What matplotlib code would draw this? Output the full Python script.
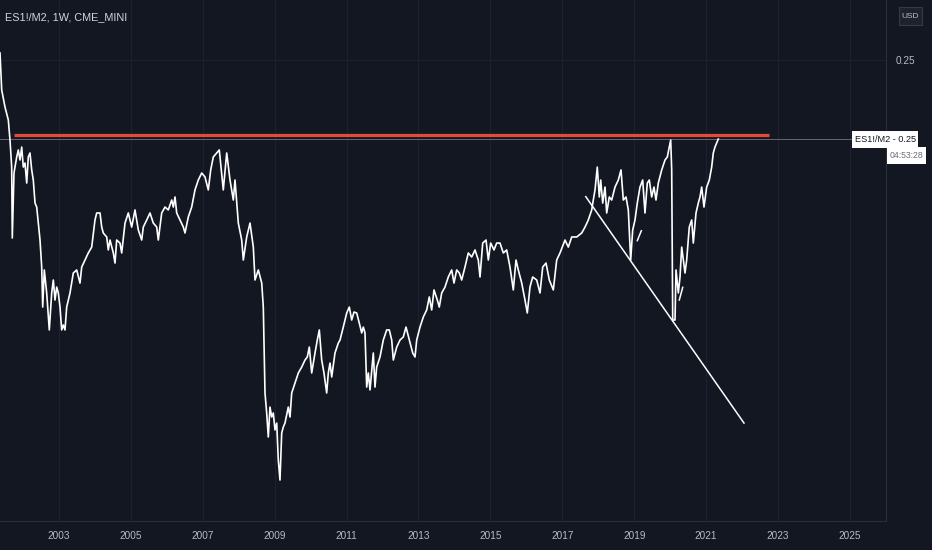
import matplotlib
matplotlib.use("Agg")
import matplotlib.pyplot as plt
from matplotlib.patches import Rectangle

# weekly ES1!/M2 ratio (decimal year, value)
years = [
    2001.359, 2001.406, 2001.498, 2001.590, 2001.637, 2001.684, 2001.701, 2001.748, 2001.824, 2001.868,
    2001.915, 2001.963, 2002.007, 2002.054, 2002.102, 2002.146, 2002.193, 2002.241, 2002.285, 2002.333,
    2002.380, 2002.424, 2002.472, 2002.519, 2002.547, 2002.591, 2002.658, 2002.730, 2002.797, 2002.842,
    2002.889, 2002.936, 2002.981, 2003.028, 2003.075, 2003.120, 2003.167, 2003.214, 2003.306, 2003.398,
    2003.492, 2003.584, 2003.632, 2003.723, 2003.815, 2003.910, 2004.001, 2004.049, 2004.141, 2004.188,
    2004.232, 2004.327, 2004.371, 2004.419, 2004.511, 2004.558, 2004.605, 2004.697, 2004.744, 2004.836,
    2004.928, 2005.022, 2005.114, 2005.206, 2005.301, 2005.345, 2005.440, 2005.531, 2005.623, 2005.718,
    2005.762, 2005.857, 2005.949, 2006.040, 2006.135, 2006.180, 2006.227, 2006.274, 2006.366, 2006.458,
    2006.505, 2006.597, 2006.691, 2006.783, 2006.875, 2006.970, 2007.061, 2007.153, 2007.220, 2007.292,
    2007.387, 2007.459, 2007.570, 2007.665, 2007.757, 2007.849, 2007.896, 2007.988, 2008.082, 2008.127,
    2008.221, 2008.313, 2008.405, 2008.452, 2008.544, 2008.639, 2008.683, 2008.730, 2008.777, 2008.822,
    2008.869, 2008.917, 2008.961, 2009.008, 2009.056, 2009.100, 2009.147, 2009.195, 2009.239, 2009.286,
    2009.378, 2009.426, 2009.473, 2009.565, 2009.657, 2009.751, 2009.843, 2009.907, 2009.963, 2010.029,
    2010.121, 2010.185, 2010.241, 2010.307, 2010.371, 2010.446, 2010.491, 2010.538, 2010.586, 2010.677,
    2010.769, 2010.817, 2010.908, 2011.003, 2011.075, 2011.142, 2011.206, 2011.281, 2011.353, 2011.420,
    2011.465, 2011.512, 2011.559, 2011.604, 2011.651, 2011.743, 2011.790, 2011.837, 2011.929, 2012.021,
    2012.115, 2012.188, 2012.255, 2012.299, 2012.394, 2012.485, 2012.577, 2012.652, 2012.744, 2012.839,
    2012.903, 2012.950, 2013.042, 2013.134, 2013.228, 2013.300, 2013.367, 2013.431, 2013.523, 2013.578,
    2013.645, 2013.737, 2013.829, 2013.923, 2013.987, 2014.062, 2014.135, 2014.201, 2014.293, 2014.385,
    2014.480, 2014.572, 2014.663, 2014.711, 2014.786, 2014.878, 2014.942, 2015.008, 2015.100, 2015.175,
    2015.267, 2015.359, 2015.453, 2015.545, 2015.637, 2015.712, 2015.776, 2015.871, 2015.962, 2016.026,
    2016.101, 2016.176, 2016.288, 2016.380, 2016.455, 2016.547, 2016.639, 2016.750, 2016.844, 2016.936,
    2017.075, 2017.167, 2017.262, 2017.401, 2017.540, 2017.632, 2017.723, 2017.818, 2017.862, 2017.910,
    2017.973, 2018.029, 2018.068, 2018.124, 2018.188, 2018.235, 2018.307, 2018.374, 2018.466, 2018.558,
    2018.633, 2018.697, 2018.772, 2018.836, 2018.863, 2018.902, 2018.958, 2019.022, 2019.086, 2019.161,
    2019.236, 2019.300, 2019.364, 2019.420, 2019.486, 2019.550, 2019.606, 2019.670, 2019.765, 2019.857,
    2019.921, 2019.977, 2020.015, 2020.043, 2020.071, 2020.135, 2020.163, 2020.227, 2020.274, 2020.321,
    2020.366, 2020.413, 2020.460, 2020.532, 2020.599, 2020.644, 2020.719, 2020.783, 2020.830, 2020.877,
    2020.941, 2021.016, 2021.089, 2021.155, 2021.200, 2021.247, 2021.339,
]
ratio = [
    0.25044, 0.24813, 0.24706, 0.24625, 0.24500, 0.24331, 0.23888, 0.24294, 0.24394, 0.24438,
    0.24375, 0.24456, 0.24331, 0.24356, 0.24231, 0.24394, 0.24419, 0.24313, 0.24250, 0.24106,
    0.24081, 0.23981, 0.23875, 0.23706, 0.23456, 0.23688, 0.23544, 0.23313, 0.23544, 0.23625,
    0.23500, 0.23581, 0.23544, 0.23456, 0.23313, 0.23344, 0.23313, 0.23456, 0.23544, 0.23669,
    0.23688, 0.23606, 0.23706, 0.23750, 0.23794, 0.23831, 0.24000, 0.24044, 0.24044, 0.23956,
    0.23919, 0.23894, 0.23813, 0.23875, 0.23794, 0.23731, 0.23875, 0.23856, 0.23794, 0.23981,
    0.24044, 0.23956, 0.24063, 0.23938, 0.23875, 0.23956, 0.24000, 0.24044, 0.23981, 0.23956,
    0.23875, 0.24044, 0.24081, 0.24063, 0.24125, 0.24081, 0.24144, 0.24044, 0.24000, 0.23956,
    0.23919, 0.24019, 0.24081, 0.24188, 0.24250, 0.24294, 0.24269, 0.24188, 0.24313, 0.24394,
    0.24419, 0.24438, 0.24188, 0.24419, 0.24250, 0.24125, 0.24250, 0.23981, 0.23875, 0.23750,
    0.23894, 0.23981, 0.23831, 0.23625, 0.23688, 0.23606, 0.23456, 0.22919, 0.22794, 0.22644,
    0.22831, 0.22769, 0.22794, 0.22688, 0.22731, 0.22500, 0.22375, 0.22669, 0.22706, 0.22731,
    0.22831, 0.22769, 0.22919, 0.22981, 0.23044, 0.23081, 0.23125, 0.23144, 0.23206, 0.23044,
    0.23169, 0.23250, 0.23313, 0.23125, 0.23044, 0.22919, 0.23044, 0.23106, 0.23019, 0.23169,
    0.23231, 0.23250, 0.23331, 0.23419, 0.23456, 0.23375, 0.23425, 0.23419, 0.23356, 0.23294,
    0.23331, 0.23294, 0.22956, 0.23044, 0.22938, 0.23169, 0.22956, 0.23081, 0.23144, 0.23250,
    0.23313, 0.23313, 0.23250, 0.23125, 0.23206, 0.23250, 0.23269, 0.23331, 0.23250, 0.23169,
    0.23144, 0.23250, 0.23331, 0.23394, 0.23438, 0.23519, 0.23438, 0.23563, 0.23500, 0.23456,
    0.23544, 0.23581, 0.23644, 0.23688, 0.23606, 0.23688, 0.23669, 0.23625, 0.23706, 0.23794,
    0.23769, 0.23813, 0.23750, 0.23644, 0.23856, 0.23875, 0.23750, 0.23856, 0.23813, 0.23856,
    0.23856, 0.23794, 0.23813, 0.23706, 0.23563, 0.23750, 0.23688, 0.23606, 0.23500, 0.23419,
    0.23581, 0.23644, 0.23625, 0.23544, 0.23706, 0.23731, 0.23625, 0.23563, 0.23750, 0.23794,
    0.23875, 0.23831, 0.23894, 0.23894, 0.23919, 0.23956, 0.24000, 0.24063, 0.24125, 0.24188,
    0.24331, 0.24144, 0.24250, 0.24106, 0.24206, 0.24044, 0.24144, 0.24125, 0.24206, 0.24250,
    0.24313, 0.24125, 0.24144, 0.24063, 0.23938, 0.23750, 0.23938, 0.24000, 0.24106, 0.24206,
    0.24250, 0.24044, 0.24231, 0.24250, 0.24144, 0.24206, 0.24125, 0.24231, 0.24313, 0.24375,
    0.24394, 0.24456, 0.24500, 0.24313, 0.23375, 0.23375, 0.23688, 0.23544, 0.23644, 0.23831,
    0.23750, 0.23669, 0.23750, 0.23956, 0.24000, 0.23856, 0.24044, 0.24106, 0.24144, 0.24206,
    0.24081, 0.24206, 0.24250, 0.24331, 0.24419, 0.24456, 0.24506,
]

# drawings on the chart
resistance_x = [2001.748, 2022.750]
resistance_y = [0.24531, 0.24531]
trend_x = [2017.653, 2022.054]
trend_y = [0.24146, 0.22731]
# two short stray strokes near the 2019 and 2020 lows
stroke1_x = [2019.086, 2019.198]
stroke1_y = [0.23871, 0.23933]
stroke2_x = [2020.254, 2020.349]
stroke2_y = [0.23500, 0.23579]

last_price = ratio[-1]
countdown = "04:53:28"
year_ticks = [2003, 2005, 2007, 2009, 2011, 2013, 2015, 2017, 2019, 2021, 2023, 2025]
price_ticks = [0.25]

bg = "#131722"
grid_c = "#1c2030"
text_c = "#b8bbc4"
font = ["Liberation Sans", "DejaVu Sans"]

fig = plt.figure(figsize=(9.32, 5.5), dpi=100, facecolor=bg)
ax = fig.add_axes([0, 29 / 550, 886 / 932, 521 / 550])
ax.set_facecolor(bg)

ax.set_xlim(2001.359, 2026.004)
ax.set_ylim(0.22119, 0.25375)

ax.set_xticks(year_ticks)
ax.set_xticklabels([str(y) for y in year_ticks])
ax.set_yticks(price_ticks)
ax.set_yticklabels(["%.2f" % p for p in price_ticks])
ax.yaxis.tick_right()
ax.tick_params(axis="both", length=0, colors=text_c, labelsize=7.2)
ax.tick_params(axis="x", pad=7)
ax.tick_params(axis="y", pad=7)
for lbl in ax.get_xticklabels() + ax.get_yticklabels():
    lbl.set_family(font)
ax.grid(True, color=grid_c, linewidth=0.8)

for s in ["top", "left"]:
    ax.spines[s].set_visible(False)
ax.spines["right"].set_color("#2a2e39")
ax.spines["bottom"].set_color("#2a2e39")

# last price line
ax.axhline(last_price, color="#787b86", linewidth=0.7, alpha=0.8)

ax.plot(resistance_x, resistance_y, color="#e4493a", linewidth=2.3, solid_capstyle="butt")
ax.plot(years, ratio, color="white", linewidth=1.2)
ax.plot(trend_x, trend_y, color="white", linewidth=1.1)
ax.plot(stroke1_x, stroke1_y, color="white", linewidth=1.1)
ax.plot(stroke2_x, stroke2_y, color="white", linewidth=1.1)

fig.text(5 / 932, 1 - 17 / 550, "ES1!/M2, 1W, CME_MINI", color="#d1d4dc",
         fontsize=7.8, family=font, va="center", ha="left")

# USD box top right
fig.patches.append(Rectangle((899 / 932, 1 - 25 / 550), 23 / 932, 18 / 550,
                             transform=fig.transFigure, facecolor="#1e222d",
                             edgecolor="#363a45", linewidth=0.8))
fig.text(910.5 / 932, 1 - 16 / 550, "USD", color=text_c, fontsize=6,
         family=font, ha="center", va="center")

# price label boxes
fig.patches.append(Rectangle((852 / 932, 1 - 148 / 550), 66 / 932, 17 / 550,
                             transform=fig.transFigure, facecolor="white",
                             edgecolor="none", zorder=5))
fig.patches.append(Rectangle((887 / 932, 1 - 164 / 550), 39 / 932, 17 / 550,
                             transform=fig.transFigure, facecolor="white",
                             edgecolor="none", zorder=5))
fig.text(855 / 932, 1 - 139.5 / 550, "ES1!/M2 - %.2f" % round(last_price, 2), color="#131722",
         fontsize=6.6, family=font, ha="left", va="center", zorder=6)
fig.text(923 / 932, 1 - 156 / 550, countdown, color="#6a6d78",
         fontsize=6.2, family=font, ha="right", va="center", zorder=6)

fig.savefig("out.png", dpi=100, facecolor=bg)
